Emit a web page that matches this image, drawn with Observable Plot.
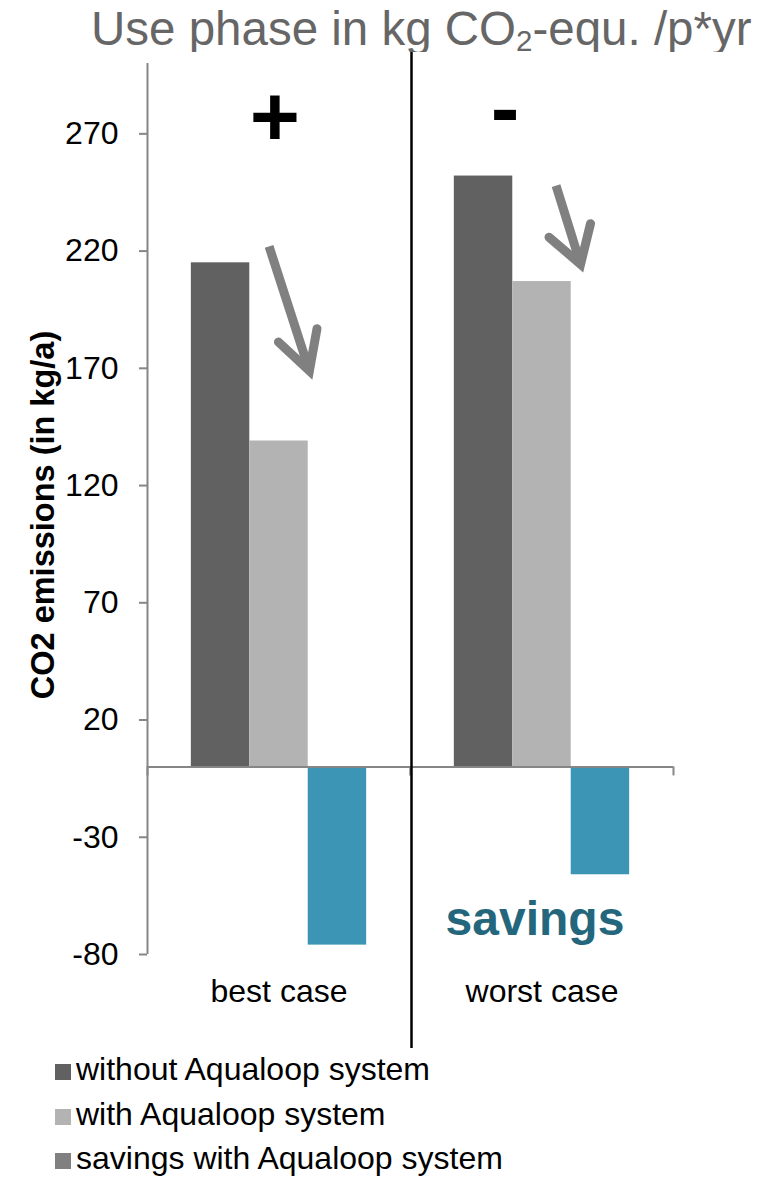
<!DOCTYPE html>
<html>
<head>
<meta charset="utf-8">
<script src="https://cdn.jsdelivr.net/npm/d3@7"></script>
<script src="https://cdn.jsdelivr.net/npm/@observablehq/plot@0.6"></script>
<style>
  body { margin: 0; background: #fff; }
  #wrap { position: relative; width: 778px; height: 1177px; overflow: hidden;
          font-family: "Liberation Sans", Arial, sans-serif; background: #fff; }
  #title { position: absolute; left: 91px; top: 5px; font-size: 47.5px; line-height: 47px;
           color: #666666; white-space: nowrap; }
  #title sub { font-size: 0.62em; vertical-align: -0.22em; line-height: 0; }
  #chart { position: absolute; left: 0; top: 52px; }
  .legrow { position: absolute; left: 55px; height: 32px; white-space: nowrap; }
  .legrow .sw { position: absolute; left: 0; width: 16px; height: 16px; }
  .legrow .lt { position: absolute; left: 21px; top: 0; font-size: 32px; line-height: 32px; color: #000; }
</style>
</head>
<body>
<div id="wrap">
  <div id="title">Use phase in kg CO<sub>2</sub>-equ. /p*yr</div>
  <div id="chart"></div>
  <div id="legend"></div>
</div>
<script>
// ---- data ----
const cases = ["best case", "worst case"];
const series = ["without Aqualoop system", "with Aqualoop system", "savings with Aqualoop system"];
const withoutValues = [215, 252];
const withValues = [139, 207];
const savingsValues = [-76, -46];
const barColors = ["#616161", "#b3b3b3", "#3c95b4"];
const legendColors = ["#616161", "#b3b3b3", "#808080"];
const yTicks = [-80, -30, 20, 70, 120, 170, 220, 270];
const yDomain = [-80, 300];
const yLabel = "CO2 emissions (in kg/a)";

// annotations (x in bar-slot units within a case, y in kg/a)
const signTexts = ["+", "-"];
const signSlots = [1.43, 0.87];
const signValues = [276.4, 280.6];
const noteText = "savings";
const noteCase = "worst case";
const noteSlot = 1.38;
const noteValue = -65.2;
const arrowCases = ["best case", "worst case"];
const arrowStartSlot = [1.33, 1.74];
const arrowStartValue = [222.0, 247.9];
const arrowTipSlot = [2.02, 2.16];
const arrowTipValue = [168.9, 214.4];
const arrowWingLSlot = [1.49, 1.62];
const arrowWingLValue = [181.2, 225.9];
const arrowWingRSlot = [2.15, 2.33];
const arrowWingRValue = [186.9, 231.7];

// ---- tables built from the arrays ----
const valuesBySeries = [withoutValues, withValues, savingsValues];
const bars = cases.flatMap((c, ci) => series.map((s, si) => ({case: c, series: s, slot: si, value: valuesBySeries[si][ci]})));
const slotDomain = [-0.75, series.length + 0.75];
const edges = cases.flatMap(c => slotDomain.map(x => ({case: c, x})));
const signs = signTexts.map((t, i) => ({case: cases[i], text: t, x: signSlots[i], y: signValues[i]}));
const shafts = arrowCases.map((c, i) => ({case: c, x1: arrowStartSlot[i], y1: arrowStartValue[i], x2: arrowTipSlot[i], y2: arrowTipValue[i]}));
const heads = arrowCases.flatMap((c, i) => [
  {case: c, x: arrowWingLSlot[i], y: arrowWingLValue[i]},
  {case: c, x: arrowTipSlot[i], y: arrowTipValue[i]},
  {case: c, x: arrowWingRSlot[i], y: arrowWingRValue[i]}
]);

const axisGray = "#868686";
const arrowGray = "#808080";

const chart = Plot.plot({
  width: 778,
  height: 998,
  marginTop: 11,
  marginBottom: 96,
  marginLeft: 146,
  marginRight: 105,
  style: {fontFamily: '"Liberation Sans", Arial, sans-serif', fontSize: "32px", background: "white", color: "black", overflow: "visible"},
  fx: {domain: cases, padding: 0, axis: null},
  x: {domain: slotDomain, axis: null},
  y: {domain: yDomain, axis: null},
  color: {domain: series, range: barColors},
  marks: [
    Plot.rect(bars, {fx: "case", x1: "slot", x2: d => d.slot + 1, y1: 0, y2: "value", fill: "series"}),
    Plot.ruleY([0], {stroke: axisGray, strokeWidth: 2}),
    Plot.ruleX(edges, {fx: "case", x: "x", y1: 0, y2: 0, insetBottom: -9, stroke: axisGray, strokeWidth: 2}),
    Plot.ruleX([cases[0]], {fx: d => d, x: () => slotDomain[0], stroke: axisGray, strokeWidth: 2}),
    Plot.axisY(yTicks, {anchor: "left", tickSize: 8, tickPadding: 21, stroke: axisGray, strokeWidth: 2, label: null, tickFormat: d => String(d)}),
    Plot.axisFx({anchor: "bottom", tickSize: 0, tickPadding: 25, label: null}),
    Plot.text([{case: cases[0]}], {fx: "case", frameAnchor: "left", textAnchor: "middle", text: () => yLabel, rotate: -90, dx: -103.5, dy: 6, fontWeight: "bold", fontSize: 32.5}),
    Plot.text(signs, {fx: "case", x: "x", y: "y", text: "text", fontWeight: "bold", fontSize: 86}),
    Plot.text([{case: noteCase, text: noteText, x: noteSlot, y: noteValue}], {fx: "case", x: "x", y: "y", text: "text", fontWeight: "bold", fontSize: 48, fill: "#24677d"}),
    Plot.link(shafts, {fx: "case", x1: "x1", y1: "y1", x2: "x2", y2: "y2", stroke: arrowGray, strokeWidth: 9, strokeLinecap: "butt"}),
    Plot.line(heads, {fx: "case", x: "x", y: "y", z: "case", stroke: arrowGray, strokeWidth: 9, strokeLinejoin: "miter", strokeMiterlimit: 10, strokeLinecap: "round"})
  ]
});

// divider between the two cases, placed from the fx scale
const fxScale = chart.scale("fx");
const xDiv = fxScale.apply(cases[1]) + 1.5;
d3.select(chart).append("line")
  .attr("x1", xDiv).attr("x2", xDiv)
  .attr("y1", 0).attr("y2", 996)
  .attr("stroke", "black").attr("stroke-width", 2.5);

document.getElementById("chart").appendChild(chart);

// legend
const legend = document.getElementById("legend");
series.forEach((s, i) => {
  const row = document.createElement("div");
  row.className = "legrow";
  row.style.top = (1053 + 44.5 * i) + "px";
  const sw = document.createElement("div");
  sw.className = "sw";
  sw.style.top = "11px";
  sw.style.background = legendColors[i];
  const lt = document.createElement("div");
  lt.className = "lt";
  lt.textContent = s;
  row.appendChild(sw);
  row.appendChild(lt);
  legend.appendChild(row);
});
</script>
</body>
</html>
